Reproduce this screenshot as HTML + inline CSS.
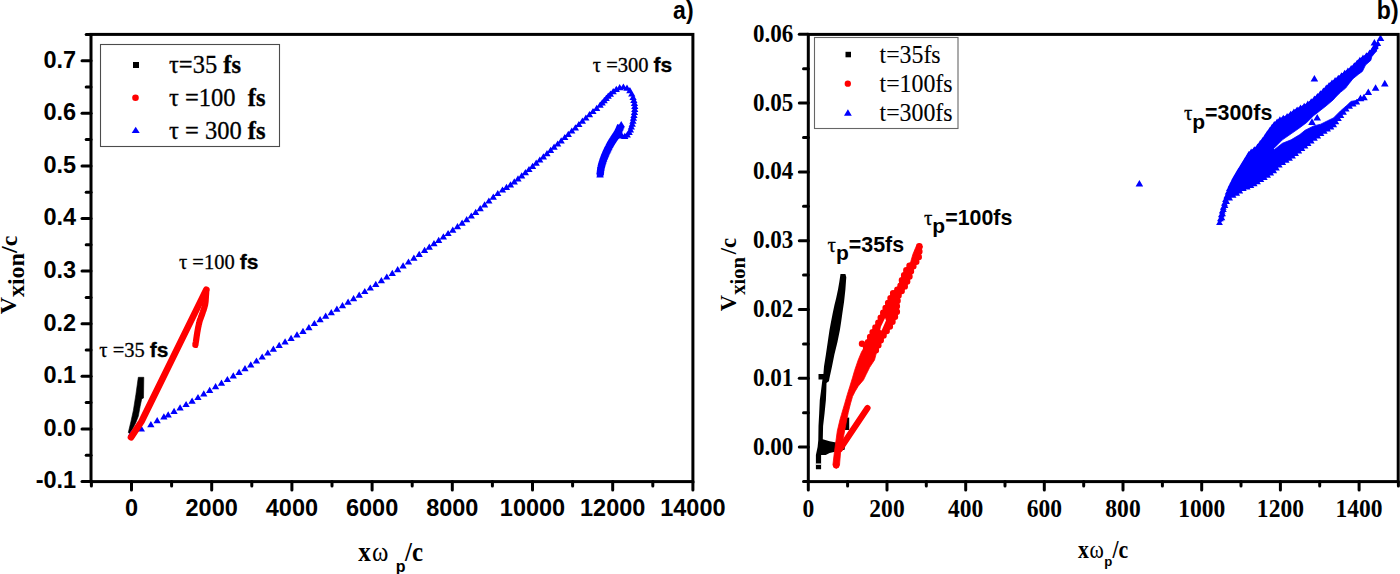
<!DOCTYPE html>
<html><head><meta charset="utf-8"><style>
html,body{margin:0;padding:0;background:#fff;}
svg{display:block;}
</style></head><body>
<svg width="1400" height="574" viewBox="0 0 1400 574">
<rect width="1400" height="574" fill="#fff"/>
<path d="M138.3,377.3 L143.8,377.3 L143.5,398.0 L141.7,398.9 L140.1,406.6 L138.3,416.3 L135.9,422.4 L132.2,429.8 L129.5,433.5 L128.3,432.5 L131.0,421.2 L133.4,410.2 L135.9,394.4 Z" fill="#000" stroke="#000" stroke-width="0.6" stroke-linejoin="round"/>
<path d="M127.8,436.2h7.3l-3.6,-6.2zM137.7,431.6h7.3l-3.6,-6.2zM147.2,427.2h7.3l-3.6,-6.2zM153.5,423.3h7.3l-3.6,-6.2zM160.2,419.5h7.3l-3.6,-6.2zM164.5,417.5h7.3l-3.6,-6.2zM170.4,414.0h7.3l-3.6,-6.2zM176.4,410.5h7.3l-3.6,-6.2zM182.4,407.1h7.3l-3.6,-6.2zM188.4,403.7h7.3l-3.6,-6.2zM194.3,400.1h7.3l-3.6,-6.2zM200.1,396.5h7.3l-3.6,-6.2zM206.0,392.9h7.3l-3.6,-6.2zM211.9,389.3h7.3l-3.6,-6.2zM217.8,385.7h7.3l-3.6,-6.2zM223.7,382.1h7.3l-3.6,-6.2zM229.6,378.5h7.3l-3.6,-6.2zM235.4,374.9h7.3l-3.6,-6.2zM241.3,371.2h7.3l-3.6,-6.2zM247.1,367.5h7.3l-3.6,-6.2zM252.8,363.6h7.3l-3.6,-6.2zM258.5,359.6h7.3l-3.6,-6.2zM264.1,355.6h7.3l-3.6,-6.2zM269.7,351.7h7.3l-3.6,-6.2zM275.5,347.9h7.3l-3.6,-6.2zM281.4,344.4h7.3l-3.6,-6.2zM287.4,340.9h7.3l-3.6,-6.2zM293.3,337.4h7.3l-3.6,-6.2zM299.3,333.9h7.3l-3.6,-6.2zM305.2,330.3h7.3l-3.6,-6.2zM310.7,326.1h7.3l-3.6,-6.2zM316.4,322.2h7.3l-3.6,-6.2zM322.0,318.7h7.3l-3.6,-6.2zM327.6,315.3h7.3l-3.6,-6.2zM333.2,311.8h7.3l-3.6,-6.2zM338.8,308.3h7.3l-3.6,-6.2zM344.4,304.8h7.3l-3.6,-6.2zM349.9,301.2h7.3l-3.6,-6.2zM355.5,297.7h7.3l-3.6,-6.2zM361.1,294.1h7.3l-3.6,-6.2zM366.6,290.6h7.3l-3.6,-6.2zM372.1,287.0h7.3l-3.6,-6.2zM377.7,283.3h7.3l-3.6,-6.2zM383.1,279.6h7.3l-3.6,-6.2zM388.6,275.9h7.3l-3.6,-6.2zM394.0,272.2h7.3l-3.6,-6.2zM399.4,268.4h7.3l-3.6,-6.2zM404.8,264.6h7.3l-3.6,-6.2zM410.2,260.7h7.3l-3.6,-6.2zM415.5,256.9h7.3l-3.6,-6.2zM420.9,253.0h7.3l-3.6,-6.2zM425.6,249.7h7.3l-3.6,-6.2zM430.3,246.3h7.3l-3.6,-6.2zM435.0,242.9h7.3l-3.6,-6.2zM439.7,239.5h7.3l-3.6,-6.2zM444.4,236.1h7.3l-3.6,-6.2zM449.1,232.7h7.3l-3.6,-6.2zM453.8,229.2h7.3l-3.6,-6.2zM458.4,225.8h7.3l-3.6,-6.2zM463.0,222.2h7.3l-3.6,-6.2zM467.6,218.6h7.3l-3.6,-6.2zM472.0,214.9h7.3l-3.6,-6.2zM476.5,211.2h7.3l-3.6,-6.2zM480.9,207.4h7.3l-3.6,-6.2zM485.2,203.6h7.3l-3.6,-6.2zM489.6,199.8h7.3l-3.6,-6.2zM494.1,196.1h7.3l-3.6,-6.2zM498.8,192.6h7.3l-3.6,-6.2zM502.8,190.0h7.3l-3.6,-6.2zM506.8,187.4h7.3l-3.6,-6.2zM510.6,184.5h7.3l-3.6,-6.2zM514.3,181.5h7.3l-3.6,-6.2zM518.0,178.4h7.3l-3.6,-6.2zM521.7,175.2h7.3l-3.6,-6.2zM525.3,172.1h7.3l-3.6,-6.2zM528.9,168.9h7.3l-3.6,-6.2zM532.5,165.8h7.3l-3.6,-6.2zM536.1,162.6h7.3l-3.6,-6.2zM539.7,159.4h7.3l-3.6,-6.2zM543.3,156.2h7.3l-3.6,-6.2zM546.9,153.0h7.3l-3.6,-6.2zM550.4,149.8h7.3l-3.6,-6.2zM554.0,146.6h7.3l-3.6,-6.2zM557.5,143.4h7.3l-3.6,-6.2zM561.1,140.1h7.3l-3.6,-6.2zM564.6,136.9h7.3l-3.6,-6.2zM568.1,133.6h7.3l-3.6,-6.2zM571.7,130.4h7.3l-3.6,-6.2zM575.2,127.1h7.3l-3.6,-6.2zM578.7,123.8h7.3l-3.6,-6.2zM582.2,120.6h7.3l-3.6,-6.2zM585.8,117.3h7.3l-3.6,-6.2zM589.3,114.1h7.3l-3.6,-6.2zM593.0,111.0h7.3l-3.6,-6.2zM596.4,107.7h7.3l-3.6,-6.2zM598.5,105.5h7.3l-3.6,-6.2zM600.5,103.2h7.3l-3.6,-6.2zM602.5,101.0h7.3l-3.6,-6.2zM604.5,98.8h7.3l-3.6,-6.2zM606.7,96.7h7.3l-3.6,-6.2zM609.5,94.2h7.3l-3.6,-6.2zM612.6,92.0h7.3l-3.6,-6.2zM616.0,90.3h7.3l-3.6,-6.2zM619.7,89.6h7.3l-3.6,-6.2zM623.3,90.8h7.3l-3.6,-6.2zM626.2,93.3h7.3l-3.6,-6.2zM628.1,96.6h7.3l-3.6,-6.2zM629.4,100.1h7.3l-3.6,-6.2zM630.2,103.0h7.3l-3.6,-6.2zM630.8,105.9h7.3l-3.6,-6.2zM631.1,108.9h7.3l-3.6,-6.2zM631.1,111.9h7.3l-3.6,-6.2zM630.8,114.9h7.3l-3.6,-6.2zM630.3,117.9h7.3l-3.6,-6.2zM629.8,120.8h7.3l-3.6,-6.2zM629.3,123.8h7.3l-3.6,-6.2zM628.6,126.7h7.3l-3.6,-6.2zM627.7,129.6h7.3l-3.6,-6.2zM626.8,132.4h7.3l-3.6,-6.2zM625.5,135.1h7.3l-3.6,-6.2zM623.6,137.5h7.3l-3.6,-6.2zM621.1,138.9h7.3l-3.6,-6.2zM618.2,138.4h7.3l-3.6,-6.2zM616.1,136.4h7.3l-3.6,-6.2zM617.5,127.2h7.5l-3.8,-6.3zM617.1,128.3h7.5l-3.8,-6.3zM616.6,129.4h7.5l-3.8,-6.3zM616.1,130.5h7.5l-3.8,-6.3zM615.7,131.6h7.5l-3.8,-6.3zM615.2,132.7h7.5l-3.8,-6.3zM614.6,133.7h7.5l-3.8,-6.3zM614.1,134.8h7.5l-3.8,-6.3zM613.5,135.9h7.5l-3.8,-6.3zM612.9,136.9h7.5l-3.8,-6.3zM612.3,137.9h7.5l-3.8,-6.3zM611.6,138.9h7.5l-3.8,-6.3zM611.0,139.9h7.5l-3.8,-6.3zM610.3,140.9h7.5l-3.8,-6.3zM609.6,141.9h7.5l-3.8,-6.3zM609.0,142.9h7.5l-3.8,-6.3zM608.3,143.9h7.5l-3.8,-6.3zM607.7,145.0h7.5l-3.8,-6.3zM607.1,146.0h7.5l-3.8,-6.3zM606.5,147.0h7.5l-3.8,-6.3zM606.0,148.1h7.5l-3.8,-6.3zM605.4,149.2h7.5l-3.8,-6.3zM604.8,150.2h7.5l-3.8,-6.3zM604.3,151.3h7.5l-3.8,-6.3zM603.8,152.4h7.5l-3.8,-6.3zM603.2,153.4h7.5l-3.8,-6.3zM602.7,154.5h7.5l-3.8,-6.3zM602.2,155.6h7.5l-3.8,-6.3zM601.8,156.7h7.5l-3.8,-6.3zM601.3,157.8h7.5l-3.8,-6.3zM600.8,159.0h7.5l-3.8,-6.3zM600.4,160.1h7.5l-3.8,-6.3zM600.0,161.2h7.5l-3.8,-6.3zM599.6,162.3h7.5l-3.8,-6.3zM599.2,163.5h7.5l-3.8,-6.3zM598.8,164.6h7.5l-3.8,-6.3zM598.4,165.7h7.5l-3.8,-6.3zM598.1,166.9h7.5l-3.8,-6.3zM597.8,168.0h7.5l-3.8,-6.3zM597.5,169.2h7.5l-3.8,-6.3zM597.3,170.4h7.5l-3.8,-6.3zM597.0,171.6h7.5l-3.8,-6.3zM596.9,172.8h7.5l-3.8,-6.3zM596.7,173.9h7.5l-3.8,-6.3zM596.6,175.1h7.5l-3.8,-6.3zM596.4,176.3h7.5l-3.8,-6.3zM596.3,177.5h7.5l-3.8,-6.3z" fill="#0000ff"/>
<path d="M620.8,125.1 L620.7,125.5 L620.5,125.9 L620.3,126.3 L620.1,126.7 L619.9,127.2 L619.7,127.6 L619.5,128.1 L619.3,128.6 L619.1,129.1 L618.9,129.6 L618.6,130.1 L618.4,130.6 L618.2,131.1 L617.9,131.5 L617.7,132.0 L617.4,132.5 L617.1,133.0 L616.9,133.4 L616.6,133.9 L616.3,134.4 L616.0,134.9 L615.6,135.4 L615.3,135.9 L615.0,136.4 L614.6,136.9 L614.3,137.4 L614.0,137.9 L613.6,138.4 L613.3,138.9 L612.9,139.5 L612.6,140.0 L612.3,140.5 L611.9,141.0 L611.6,141.5 L611.3,142.1 L611.0,142.6 L610.7,143.1 L610.4,143.7 L610.1,144.2 L609.8,144.7 L609.5,145.3 L609.2,145.8 L608.9,146.4 L608.7,146.9 L608.4,147.5 L608.1,148.0 L607.8,148.6 L607.5,149.1 L607.3,149.7 L607.0,150.2 L606.7,150.8 L606.5,151.4 L606.2,151.9 L606.0,152.5 L605.7,153.0 L605.5,153.6 L605.3,154.2 L605.0,154.7 L604.8,155.3 L604.6,155.9 L604.3,156.5 L604.1,157.1 L603.9,157.6 L603.7,158.2 L603.5,158.8 L603.2,159.4 L603.0,160.0 L602.8,160.6 L602.7,161.1 L602.5,161.7 L602.3,162.3 L602.1,162.8 L602.0,163.4 L601.8,163.9 L601.6,164.5 L601.5,165.0 L601.4,165.5 L601.2,166.1 L601.1,166.6 L601.0,167.2 L600.9,167.7 L600.8,168.3 L600.7,168.8 L600.6,169.4 L600.6,169.9 L600.5,170.5 L600.4,171.0 L600.4,171.5 L600.3,172.0 L600.3,172.4 L600.2,172.8 L600.2,173.2 L600.1,173.6 L600.1,173.9 L600.0,174.2 L600.0,174.5" stroke="#0000ff" stroke-width="7.2" fill="none"/>
<path d="M131.0,437.3 L141.5,421.5 L206.3,289.6" fill="none" stroke="#ff0000" stroke-width="6.6" stroke-linecap="round" stroke-linejoin="round"/>
<path d="M206.3,291.0 L206.2,291.8 L206.2,292.8 L206.1,294.0 L206.0,295.4 L205.9,296.9 L205.8,298.4 L205.7,299.9 L205.6,301.4 L205.4,302.8 L205.2,304.0 L205.0,305.1 L204.7,306.2 L204.4,307.3 L204.1,308.3 L203.8,309.3 L203.5,310.3 L203.1,311.2 L202.8,312.2 L202.5,313.1 L202.2,314.0 L201.9,314.9 L201.6,315.7 L201.3,316.5 L201.0,317.2 L200.8,317.9 L200.5,318.7 L200.2,319.4 L199.9,320.2 L199.7,321.1 L199.4,322.0 L199.2,323.0 L198.9,324.0 L198.7,325.0 L198.5,326.1 L198.2,327.2 L198.0,328.4 L197.8,329.5 L197.6,330.7 L197.4,331.8 L197.2,333.0 L197.0,334.2 L196.8,335.5 L196.6,336.9 L196.4,338.3 L196.2,339.7 L196.0,341.0 L195.8,342.3 L195.6,343.4 L195.5,344.3 L195.4,345.0" fill="none" stroke="#ff0000" stroke-width="6.2" stroke-linecap="round" stroke-linejoin="round"/>
<path d="M840.5,274.1 L845.4,274.1 L846.3,277.2 L846.0,280.9 L845.4,289.4 L844.1,301.6 L842.3,313.8 L841.1,322.3 L839.9,330.0 L837.4,342.2 L834.4,354.4 L832.0,366.6 L829.5,378.0 L828.9,381.2 L826.5,383.0 L826.3,391.0 L825.9,400.0 L824.6,413.1 L823.1,426.1 L822.8,439.2 L829.6,441.2 L836.1,442.5 L842.0,443.5 L845.0,446.5 L844.6,449.7 L836.1,451.6 L829.6,452.9 L825.7,454.9 L821.1,454.9 L821.1,469.3 L815.9,469.3 L815.9,455.0 L817.6,447.0 L818.3,440.0 L818.5,426.1 L819.2,413.1 L819.8,400.0 L821.0,391.0 L822.2,381.2 L822.5,379.4 L818.5,379.4 L818.5,373.9 L823.4,373.9 L824.0,366.6 L825.9,354.4 L827.7,342.2 L829.5,330.0 L830.7,323.5 L832.6,313.8 L834.4,305.2 L836.2,297.9 L838.0,289.4 L839.3,282.0 Z" fill="#000"/>
<rect x="816" y="463.5" width="5" height="1.3" fill="#fff"/>
<path d="M844.6,417.6 L849.2,417.6 L849.2,430 L844.6,430 Z" fill="#000"/>
<path d="M919.3,243.2 L922.4,246.4 L921.0,251.4 L920.3,257.9 L913.2,269.1 L910.7,277.7 L905.9,287.4 L899.8,296.0 L898.5,305.7 L898.5,313.0 L892.4,325.2 L883.9,337.4 L876.6,352.1 L874.5,360.0 L869.7,367.3 L866.1,374.6 L863.5,379.9 L858.2,386.2 L855.1,391.4 L852.5,396.6 L850.4,403.9 L848.3,412.3 L846.7,420.0 L844.6,431.0 L840.5,453.0 L839.5,465.0 L836.2,468.5 L832.9,465.0 L834.3,453.0 L837.3,431.0 L839.9,420.0 L841.5,414.4 L844.6,403.9 L847.3,394.5 L849.9,386.2 L852.5,377.8 L854.6,370.5 L858.2,360.0 L861.5,352.0 L864.4,347.2 L869.3,335.0 L876.6,322.8 L882.7,310.6 L886.3,303.3 L891.2,293.5 L898.5,287.4 L899.8,281.3 L904.6,270.4 L910.7,261.8 L912.9,254.3 L916.2,246.4 Z" fill="#ff0000" stroke="#ff0000" stroke-width="0.8" stroke-linejoin="round"/>
<path d="M885.1,317.9 L886,320.5 L881.6,330.4 L880.2,330.1 L881,326.5 Z" fill="#fff"/>
<path d="M922.6,251.4a3.2,3.2 0 1,0 -6.4,0a3.2,3.2 0 1,0 6.4,0zM922.0,256.9a3.2,3.2 0 1,0 -6.4,0a3.2,3.2 0 1,0 6.4,0zM919.5,261.7a3.2,3.2 0 1,0 -6.4,0a3.2,3.2 0 1,0 6.4,0zM916.6,266.3a3.2,3.2 0 1,0 -6.4,0a3.2,3.2 0 1,0 6.4,0zM914.2,271.2a3.2,3.2 0 1,0 -6.4,0a3.2,3.2 0 1,0 6.4,0zM912.7,276.5a3.2,3.2 0 1,0 -6.4,0a3.2,3.2 0 1,0 6.4,0zM910.4,281.5a3.2,3.2 0 1,0 -6.4,0a3.2,3.2 0 1,0 6.4,0zM908.0,286.4a3.2,3.2 0 1,0 -6.4,0a3.2,3.2 0 1,0 6.4,0zM904.9,291.0a3.2,3.2 0 1,0 -6.4,0a3.2,3.2 0 1,0 6.4,0zM901.8,295.5a3.2,3.2 0 1,0 -6.4,0a3.2,3.2 0 1,0 6.4,0zM900.8,300.8a3.2,3.2 0 1,0 -6.4,0a3.2,3.2 0 1,0 6.4,0zM900.1,306.3a3.2,3.2 0 1,0 -6.4,0a3.2,3.2 0 1,0 6.4,0zM900.1,311.8a3.2,3.2 0 1,0 -6.4,0a3.2,3.2 0 1,0 6.4,0zM898.2,316.8a3.2,3.2 0 1,0 -6.4,0a3.2,3.2 0 1,0 6.4,0zM895.7,321.8a3.2,3.2 0 1,0 -6.4,0a3.2,3.2 0 1,0 6.4,0zM893.1,326.6a3.2,3.2 0 1,0 -6.4,0a3.2,3.2 0 1,0 6.4,0zM889.9,331.1a3.2,3.2 0 1,0 -6.4,0a3.2,3.2 0 1,0 6.4,0zM886.8,335.6a3.2,3.2 0 1,0 -6.4,0a3.2,3.2 0 1,0 6.4,0zM884.0,340.3a3.2,3.2 0 1,0 -6.4,0a3.2,3.2 0 1,0 6.4,0zM881.6,345.3a3.2,3.2 0 1,0 -6.4,0a3.2,3.2 0 1,0 6.4,0zM879.1,350.2a3.2,3.2 0 1,0 -6.4,0a3.2,3.2 0 1,0 6.4,0zM869.2,347.2a3.2,3.2 0 1,0 -6.4,0a3.2,3.2 0 1,0 6.4,0zM871.2,342.1a3.2,3.2 0 1,0 -6.4,0a3.2,3.2 0 1,0 6.4,0zM873.3,337.0a3.2,3.2 0 1,0 -6.4,0a3.2,3.2 0 1,0 6.4,0zM875.8,332.1a3.2,3.2 0 1,0 -6.4,0a3.2,3.2 0 1,0 6.4,0zM878.6,327.4a3.2,3.2 0 1,0 -6.4,0a3.2,3.2 0 1,0 6.4,0zM881.5,322.7a3.2,3.2 0 1,0 -6.4,0a3.2,3.2 0 1,0 6.4,0zM883.9,317.8a3.2,3.2 0 1,0 -6.4,0a3.2,3.2 0 1,0 6.4,0zM886.4,312.8a3.2,3.2 0 1,0 -6.4,0a3.2,3.2 0 1,0 6.4,0zM888.8,307.9a3.2,3.2 0 1,0 -6.4,0a3.2,3.2 0 1,0 6.4,0zM891.3,303.0a3.2,3.2 0 1,0 -6.4,0a3.2,3.2 0 1,0 6.4,0zM893.7,298.1a3.2,3.2 0 1,0 -6.4,0a3.2,3.2 0 1,0 6.4,0zM896.3,293.2a3.2,3.2 0 1,0 -6.4,0a3.2,3.2 0 1,0 6.4,0zM900.5,289.7a3.2,3.2 0 1,0 -6.4,0a3.2,3.2 0 1,0 6.4,0zM903.7,285.6a3.2,3.2 0 1,0 -6.4,0a3.2,3.2 0 1,0 6.4,0zM905.1,280.2a3.2,3.2 0 1,0 -6.4,0a3.2,3.2 0 1,0 6.4,0zM907.3,275.2a3.2,3.2 0 1,0 -6.4,0a3.2,3.2 0 1,0 6.4,0zM909.5,270.2a3.2,3.2 0 1,0 -6.4,0a3.2,3.2 0 1,0 6.4,0zM912.7,265.7a3.2,3.2 0 1,0 -6.4,0a3.2,3.2 0 1,0 6.4,0z" fill="#ff0000"/>
<circle cx="919.3" cy="246.4" r="3.3" fill="#ff0000"/><circle cx="917.9" cy="251.4" r="3.3" fill="#ff0000"/>
<circle cx="862" cy="343.8" r="3.2" fill="#ff0000"/>
<circle cx="836.2" cy="465.2" r="3.3" fill="#ff0000"/>
<path d="M840,449 L867.5,408" stroke="#ff0000" stroke-width="6.2" stroke-linecap="round" fill="none"/>
<path d="M1218.9,222.0 L1221.5,210.8 L1225.0,198.7 L1229.2,186.8 L1234.4,176.5 L1239.6,167.8 L1246.5,156.5 L1248.8,152.5 L1256.7,146.4 L1263.8,137.5 L1266.6,133.2 L1273.5,123.7 L1279.2,118.9 L1286.9,115.4 L1295.6,109.3 L1306.0,104.1 L1313.3,98.7 L1322.1,90.9 L1326.5,86.4 L1331.3,82.1 L1338.2,76.9 L1345.1,71.6 L1352.2,66.3 L1359.2,59.4 L1367.9,53.3 L1373.3,47.8 L1377.6,42.2 L1378.0,47.0 L1376.0,51.5 L1371.8,56.7 L1370.8,60.4 L1365.5,65.1 L1362.4,71.4 L1358.2,74.5 L1353.0,78.7 L1348.8,83.9 L1345.7,88.1 L1340.5,92.3 L1336.3,96.4 L1333.1,100.0 L1326.0,106.0 L1317.2,112.9 L1313.8,115.5 L1306.8,122.4 L1299.8,127.7 L1291.1,133.8 L1282.4,139.8 L1277.2,145.1 L1273.7,148.6 L1274.6,149.4 L1282.4,143.3 L1291.1,139.8 L1299.8,134.6 L1305.0,130.3 L1313.8,125.9 L1320.7,124.2 L1327.7,120.7 L1333.5,117.9 L1340.4,111.0 L1347.4,104.9 L1350.9,101.4 L1356.1,100.5 L1360.0,98.0 L1357.1,102.2 L1355.1,103.2 L1347.9,107.7 L1342.3,114.1 L1336.2,122.0 L1333.7,125.3 L1324.9,131.3 L1316.0,137.4 L1307.2,144.4 L1298.6,151.4 L1290.0,158.3 L1281.1,163.6 L1273.1,171.8 L1266.4,176.4 L1259.4,180.8 L1252.6,185.0 L1243.9,188.5 L1237.6,193.0 L1231.4,196.5 L1227.5,200.6 L1223.8,209.8 L1221.9,221.3 Z" fill="#0000ff" stroke="#0000ff" stroke-width="0.8" stroke-linejoin="round"/>
<path d="M1216.1,225.1h6.8l-3.4,-5.8zM1217.0,221.2h6.8l-3.4,-5.8zM1217.9,217.3h6.8l-3.4,-5.8zM1218.8,213.5h6.8l-3.4,-5.8zM1219.9,209.7h6.8l-3.4,-5.8zM1221.0,205.8h6.8l-3.4,-5.8zM1222.1,202.1h6.8l-3.4,-5.8zM1223.4,198.4h6.8l-3.4,-5.8zM1224.7,194.6h6.8l-3.4,-5.8zM1226.0,190.9h6.8l-3.4,-5.8zM1227.6,187.4h6.8l-3.4,-5.8zM1229.4,183.9h6.8l-3.4,-5.8zM1231.1,180.4h6.8l-3.4,-5.8zM1233.1,177.0h6.8l-3.4,-5.8zM1235.1,173.6h6.8l-3.4,-5.8zM1237.2,170.2h6.8l-3.4,-5.8zM1239.3,166.8h6.8l-3.4,-5.8zM1241.4,163.4h6.8l-3.4,-5.8zM1243.5,160.0h6.8l-3.4,-5.8zM1245.4,156.8h6.8l-3.4,-5.8zM1247.8,154.4h6.8l-3.4,-5.8zM1250.9,152.0h6.8l-3.4,-5.8zM1254.2,149.2h6.8l-3.4,-5.8zM1256.8,145.9h6.8l-3.4,-5.8zM1259.3,142.7h6.8l-3.4,-5.8zM1261.8,139.4h6.8l-3.4,-5.8zM1264.0,136.1h6.8l-3.4,-5.8zM1266.3,132.9h6.8l-3.4,-5.8zM1268.6,129.7h6.8l-3.4,-5.8zM1270.9,126.8h6.8l-3.4,-5.8zM1273.7,124.4h6.8l-3.4,-5.8zM1276.5,122.1h6.8l-3.4,-5.8zM1279.9,120.6h6.8l-3.4,-5.8zM1283.7,118.9h6.8l-3.4,-5.8zM1287.2,116.5h6.8l-3.4,-5.8zM1290.5,114.2h6.8l-3.4,-5.8zM1293.7,112.2h6.8l-3.4,-5.8zM1297.1,110.4h6.8l-3.4,-5.8zM1300.8,108.6h6.8l-3.4,-5.8zM1304.4,106.4h6.8l-3.4,-5.8zM1307.8,104.0h6.8l-3.4,-5.8zM1311.0,101.4h6.8l-3.4,-5.8zM1314.0,98.7h6.8l-3.4,-5.8zM1317.0,96.0h6.8l-3.4,-5.8zM1320.0,93.3h6.8l-3.4,-5.8zM1322.9,90.4h6.8l-3.4,-5.8zM1325.7,87.7h6.8l-3.4,-5.8zM1328.6,85.2h6.8l-3.4,-5.8zM1331.7,82.9h6.8l-3.4,-5.8zM1334.9,80.5h6.8l-3.4,-5.8zM1338.1,78.0h6.8l-3.4,-5.8zM1341.3,75.6h6.8l-3.4,-5.8zM1344.5,73.2h6.8l-3.4,-5.8zM1347.8,70.7h6.8l-3.4,-5.8zM1350.9,68.0h6.8l-3.4,-5.8zM1353.8,65.2h6.8l-3.4,-5.8zM1356.5,62.6h6.8l-3.4,-5.8zM1359.6,60.4h6.8l-3.4,-5.8zM1363.0,58.0h6.8l-3.4,-5.8zM1366.2,55.3h6.8l-3.4,-5.8zM1369.2,52.3h6.8l-3.4,-5.8zM1371.9,49.1h6.8l-3.4,-5.8zM1374.4,45.9h6.8l-3.4,-5.8zM1353.4,104.6h6.8l-3.4,-5.8zM1349.8,106.6h6.8l-3.4,-5.8zM1346.2,108.8h6.8l-3.4,-5.8zM1342.8,111.6h6.8l-3.4,-5.8zM1340.1,114.8h6.8l-3.4,-5.8zM1337.5,117.9h6.8l-3.4,-5.8zM1335.0,121.1h6.8l-3.4,-5.8zM1332.5,124.3h6.8l-3.4,-5.8zM1330.3,127.2h6.8l-3.4,-5.8zM1327.5,129.4h6.8l-3.4,-5.8zM1324.2,131.6h6.8l-3.4,-5.8zM1320.9,133.8h6.8l-3.4,-5.8zM1317.6,136.1h6.8l-3.4,-5.8zM1314.3,138.4h6.8l-3.4,-5.8zM1311.0,140.8h6.8l-3.4,-5.8zM1307.8,143.4h6.8l-3.4,-5.8zM1304.7,145.9h6.8l-3.4,-5.8zM1301.6,148.4h6.8l-3.4,-5.8zM1298.5,150.9h6.8l-3.4,-5.8zM1295.4,153.4h6.8l-3.4,-5.8zM1292.2,155.9h6.8l-3.4,-5.8zM1289.1,158.4h6.8l-3.4,-5.8zM1286.1,160.7h6.8l-3.4,-5.8zM1282.8,162.7h6.8l-3.4,-5.8zM1279.3,164.9h6.8l-3.4,-5.8zM1275.9,167.5h6.8l-3.4,-5.8zM1273.0,170.5h6.8l-3.4,-5.8zM1270.3,173.2h6.8l-3.4,-5.8zM1267.3,175.6h6.8l-3.4,-5.8zM1264.2,177.8h6.8l-3.4,-5.8zM1260.9,180.0h6.8l-3.4,-5.8zM1257.5,182.1h6.8l-3.4,-5.8zM1254.1,184.2h6.8l-3.4,-5.8zM1250.8,186.2h6.8l-3.4,-5.8zM1247.5,188.0h6.8l-3.4,-5.8zM1243.8,189.4h6.8l-3.4,-5.8zM1239.9,191.1h6.8l-3.4,-5.8zM1236.4,193.6h6.8l-3.4,-5.8zM1233.3,195.8h6.8l-3.4,-5.8zM1229.7,197.7h6.8l-3.4,-5.8zM1226.2,200.4h6.8l-3.4,-5.8zM1223.2,204.0h6.8l-3.4,-5.8zM1221.6,208.1h6.8l-3.4,-5.8zM1220.0,212.0h6.8l-3.4,-5.8zM1219.2,216.2h6.8l-3.4,-5.8zM1218.5,220.2h6.8l-3.4,-5.8z" fill="#0000ff"/>
<path d="M1310.6,81.6h7.6l-3.8,-6.6zM1135.6,186.6h7.6l-3.8,-6.6zM1313.4,120.5h7.6l-3.8,-6.6zM1308.2,124.9h7.6l-3.8,-6.6zM1376.7,41.1h7.6l-3.8,-6.6zM1370.6,45.5h7.6l-3.8,-6.6zM1369.7,51.6h7.6l-3.8,-6.6zM1381.0,86.4h7.6l-3.8,-6.6zM1371.8,90.8h7.6l-3.8,-6.6zM1364.5,95.1h7.6l-3.8,-6.6zM1360.2,100.3h7.6l-3.8,-6.6zM1356.7,101.2h7.6l-3.8,-6.6z" fill="#0000ff"/>
<rect x="91.0" y="34.4" width="601.9" height="447.2" fill="none" stroke="#000" stroke-width="3"/>
<rect x="808.3" y="34.4" width="589.9" height="447.2" fill="none" stroke="#000" stroke-width="3"/>
<line x1="82.0" y1="481.5" x2="91.0" y2="481.5" stroke="#000" stroke-width="3" stroke-linecap="round"/>
<text x="76.2" y="488.3" font-family='"Liberation Sans", sans-serif' font-size="23.5" font-weight="bold" text-anchor="end" fill="#000" >-0.1</text>
<line x1="86.2" y1="455.2" x2="91.0" y2="455.2" stroke="#000" stroke-width="3" stroke-linecap="round"/>
<line x1="82.0" y1="428.9" x2="91.0" y2="428.9" stroke="#000" stroke-width="3" stroke-linecap="round"/>
<text x="76.2" y="435.7" font-family='"Liberation Sans", sans-serif' font-size="23.5" font-weight="bold" text-anchor="end" fill="#000" >0.0</text>
<line x1="86.2" y1="402.6" x2="91.0" y2="402.6" stroke="#000" stroke-width="3" stroke-linecap="round"/>
<line x1="82.0" y1="376.3" x2="91.0" y2="376.3" stroke="#000" stroke-width="3" stroke-linecap="round"/>
<text x="76.2" y="383.1" font-family='"Liberation Sans", sans-serif' font-size="23.5" font-weight="bold" text-anchor="end" fill="#000" >0.1</text>
<line x1="86.2" y1="350.0" x2="91.0" y2="350.0" stroke="#000" stroke-width="3" stroke-linecap="round"/>
<line x1="82.0" y1="323.7" x2="91.0" y2="323.7" stroke="#000" stroke-width="3" stroke-linecap="round"/>
<text x="76.2" y="330.5" font-family='"Liberation Sans", sans-serif' font-size="23.5" font-weight="bold" text-anchor="end" fill="#000" >0.2</text>
<line x1="86.2" y1="297.4" x2="91.0" y2="297.4" stroke="#000" stroke-width="3" stroke-linecap="round"/>
<line x1="82.0" y1="271.1" x2="91.0" y2="271.1" stroke="#000" stroke-width="3" stroke-linecap="round"/>
<text x="76.2" y="277.9" font-family='"Liberation Sans", sans-serif' font-size="23.5" font-weight="bold" text-anchor="end" fill="#000" >0.3</text>
<line x1="86.2" y1="244.8" x2="91.0" y2="244.8" stroke="#000" stroke-width="3" stroke-linecap="round"/>
<line x1="82.0" y1="218.5" x2="91.0" y2="218.5" stroke="#000" stroke-width="3" stroke-linecap="round"/>
<text x="76.2" y="225.3" font-family='"Liberation Sans", sans-serif' font-size="23.5" font-weight="bold" text-anchor="end" fill="#000" >0.4</text>
<line x1="86.2" y1="192.2" x2="91.0" y2="192.2" stroke="#000" stroke-width="3" stroke-linecap="round"/>
<line x1="82.0" y1="165.9" x2="91.0" y2="165.9" stroke="#000" stroke-width="3" stroke-linecap="round"/>
<text x="76.2" y="172.7" font-family='"Liberation Sans", sans-serif' font-size="23.5" font-weight="bold" text-anchor="end" fill="#000" >0.5</text>
<line x1="86.2" y1="139.6" x2="91.0" y2="139.6" stroke="#000" stroke-width="3" stroke-linecap="round"/>
<line x1="82.0" y1="113.3" x2="91.0" y2="113.3" stroke="#000" stroke-width="3" stroke-linecap="round"/>
<text x="76.2" y="120.1" font-family='"Liberation Sans", sans-serif' font-size="23.5" font-weight="bold" text-anchor="end" fill="#000" >0.6</text>
<line x1="86.2" y1="87.0" x2="91.0" y2="87.0" stroke="#000" stroke-width="3" stroke-linecap="round"/>
<line x1="82.0" y1="60.7" x2="91.0" y2="60.7" stroke="#000" stroke-width="3" stroke-linecap="round"/>
<text x="76.2" y="67.5" font-family='"Liberation Sans", sans-serif' font-size="23.5" font-weight="bold" text-anchor="end" fill="#000" >0.7</text>
<line x1="86.2" y1="34.4" x2="91.0" y2="34.4" stroke="#000" stroke-width="3" stroke-linecap="round"/>
<line x1="91.4" y1="481.6" x2="91.4" y2="486.1" stroke="#000" stroke-width="3" stroke-linecap="round"/>
<line x1="131.5" y1="481.6" x2="131.5" y2="490.1" stroke="#000" stroke-width="3" stroke-linecap="round"/>
<text x="131.5" y="515.6" font-family='"Liberation Sans", sans-serif' font-size="23.5" font-weight="bold" text-anchor="middle" fill="#000" >0</text>
<line x1="171.6" y1="481.6" x2="171.6" y2="486.1" stroke="#000" stroke-width="3" stroke-linecap="round"/>
<line x1="211.7" y1="481.6" x2="211.7" y2="490.1" stroke="#000" stroke-width="3" stroke-linecap="round"/>
<text x="211.7" y="515.6" font-family='"Liberation Sans", sans-serif' font-size="23.5" font-weight="bold" text-anchor="middle" fill="#000" >2000</text>
<line x1="251.8" y1="481.6" x2="251.8" y2="486.1" stroke="#000" stroke-width="3" stroke-linecap="round"/>
<line x1="291.9" y1="481.6" x2="291.9" y2="490.1" stroke="#000" stroke-width="3" stroke-linecap="round"/>
<text x="291.9" y="515.6" font-family='"Liberation Sans", sans-serif' font-size="23.5" font-weight="bold" text-anchor="middle" fill="#000" >4000</text>
<line x1="332.0" y1="481.6" x2="332.0" y2="486.1" stroke="#000" stroke-width="3" stroke-linecap="round"/>
<line x1="372.1" y1="481.6" x2="372.1" y2="490.1" stroke="#000" stroke-width="3" stroke-linecap="round"/>
<text x="372.1" y="515.6" font-family='"Liberation Sans", sans-serif' font-size="23.5" font-weight="bold" text-anchor="middle" fill="#000" >6000</text>
<line x1="412.2" y1="481.6" x2="412.2" y2="486.1" stroke="#000" stroke-width="3" stroke-linecap="round"/>
<line x1="452.3" y1="481.6" x2="452.3" y2="490.1" stroke="#000" stroke-width="3" stroke-linecap="round"/>
<text x="452.3" y="515.6" font-family='"Liberation Sans", sans-serif' font-size="23.5" font-weight="bold" text-anchor="middle" fill="#000" >8000</text>
<line x1="492.4" y1="481.6" x2="492.4" y2="486.1" stroke="#000" stroke-width="3" stroke-linecap="round"/>
<line x1="532.5" y1="481.6" x2="532.5" y2="490.1" stroke="#000" stroke-width="3" stroke-linecap="round"/>
<text x="532.5" y="515.6" font-family='"Liberation Sans", sans-serif' font-size="23.5" font-weight="bold" text-anchor="middle" fill="#000" >10000</text>
<line x1="572.6" y1="481.6" x2="572.6" y2="486.1" stroke="#000" stroke-width="3" stroke-linecap="round"/>
<line x1="612.7" y1="481.6" x2="612.7" y2="490.1" stroke="#000" stroke-width="3" stroke-linecap="round"/>
<text x="612.7" y="515.6" font-family='"Liberation Sans", sans-serif' font-size="23.5" font-weight="bold" text-anchor="middle" fill="#000" >12000</text>
<line x1="652.8" y1="481.6" x2="652.8" y2="486.1" stroke="#000" stroke-width="3" stroke-linecap="round"/>
<line x1="692.9" y1="481.6" x2="692.9" y2="490.1" stroke="#000" stroke-width="3" stroke-linecap="round"/>
<text x="692.9" y="515.6" font-family='"Liberation Sans", sans-serif' font-size="23.5" font-weight="bold" text-anchor="middle" fill="#000" >14000</text>
<line x1="803.5" y1="481.5" x2="808.3" y2="481.5" stroke="#000" stroke-width="3" stroke-linecap="round"/>
<line x1="799.3" y1="447.1" x2="808.3" y2="447.1" stroke="#000" stroke-width="3" stroke-linecap="round"/>
<g transform="translate(793.3,454.5) scale(0.93,1)"><text x="0" y="0" font-family='"Liberation Serif", serif' font-size="24.8" font-weight="bold" text-anchor="end">0.00</text></g>
<line x1="803.5" y1="412.7" x2="808.3" y2="412.7" stroke="#000" stroke-width="3" stroke-linecap="round"/>
<line x1="799.3" y1="378.3" x2="808.3" y2="378.3" stroke="#000" stroke-width="3" stroke-linecap="round"/>
<g transform="translate(793.3,385.7) scale(0.93,1)"><text x="0" y="0" font-family='"Liberation Serif", serif' font-size="24.8" font-weight="bold" text-anchor="end">0.01</text></g>
<line x1="803.5" y1="343.9" x2="808.3" y2="343.9" stroke="#000" stroke-width="3" stroke-linecap="round"/>
<line x1="799.3" y1="309.5" x2="808.3" y2="309.5" stroke="#000" stroke-width="3" stroke-linecap="round"/>
<g transform="translate(793.3,316.9) scale(0.93,1)"><text x="0" y="0" font-family='"Liberation Serif", serif' font-size="24.8" font-weight="bold" text-anchor="end">0.02</text></g>
<line x1="803.5" y1="275.1" x2="808.3" y2="275.1" stroke="#000" stroke-width="3" stroke-linecap="round"/>
<line x1="799.3" y1="240.7" x2="808.3" y2="240.7" stroke="#000" stroke-width="3" stroke-linecap="round"/>
<g transform="translate(793.3,248.1) scale(0.93,1)"><text x="0" y="0" font-family='"Liberation Serif", serif' font-size="24.8" font-weight="bold" text-anchor="end">0.03</text></g>
<line x1="803.5" y1="206.3" x2="808.3" y2="206.3" stroke="#000" stroke-width="3" stroke-linecap="round"/>
<line x1="799.3" y1="171.9" x2="808.3" y2="171.9" stroke="#000" stroke-width="3" stroke-linecap="round"/>
<g transform="translate(793.3,179.3) scale(0.93,1)"><text x="0" y="0" font-family='"Liberation Serif", serif' font-size="24.8" font-weight="bold" text-anchor="end">0.04</text></g>
<line x1="803.5" y1="137.5" x2="808.3" y2="137.5" stroke="#000" stroke-width="3" stroke-linecap="round"/>
<line x1="799.3" y1="103.1" x2="808.3" y2="103.1" stroke="#000" stroke-width="3" stroke-linecap="round"/>
<g transform="translate(793.3,110.5) scale(0.93,1)"><text x="0" y="0" font-family='"Liberation Serif", serif' font-size="24.8" font-weight="bold" text-anchor="end">0.05</text></g>
<line x1="803.5" y1="68.7" x2="808.3" y2="68.7" stroke="#000" stroke-width="3" stroke-linecap="round"/>
<line x1="799.3" y1="34.3" x2="808.3" y2="34.3" stroke="#000" stroke-width="3" stroke-linecap="round"/>
<g transform="translate(793.3,41.7) scale(0.93,1)"><text x="0" y="0" font-family='"Liberation Serif", serif' font-size="24.8" font-weight="bold" text-anchor="end">0.06</text></g>
<line x1="808.3" y1="481.6" x2="808.3" y2="490.1" stroke="#000" stroke-width="3" stroke-linecap="round"/>
<g transform="translate(808.3,516.6) scale(0.95,1)"><text x="0" y="0" font-family='"Liberation Serif", serif' font-size="24.8" font-weight="bold" text-anchor="middle">0</text></g>
<line x1="847.6" y1="481.6" x2="847.6" y2="486.1" stroke="#000" stroke-width="3" stroke-linecap="round"/>
<line x1="887.0" y1="481.6" x2="887.0" y2="490.1" stroke="#000" stroke-width="3" stroke-linecap="round"/>
<g transform="translate(887.0,516.6) scale(0.95,1)"><text x="0" y="0" font-family='"Liberation Serif", serif' font-size="24.8" font-weight="bold" text-anchor="middle">200</text></g>
<line x1="926.3" y1="481.6" x2="926.3" y2="486.1" stroke="#000" stroke-width="3" stroke-linecap="round"/>
<line x1="965.7" y1="481.6" x2="965.7" y2="490.1" stroke="#000" stroke-width="3" stroke-linecap="round"/>
<g transform="translate(965.7,516.6) scale(0.95,1)"><text x="0" y="0" font-family='"Liberation Serif", serif' font-size="24.8" font-weight="bold" text-anchor="middle">400</text></g>
<line x1="1005.0" y1="481.6" x2="1005.0" y2="486.1" stroke="#000" stroke-width="3" stroke-linecap="round"/>
<line x1="1044.3" y1="481.6" x2="1044.3" y2="490.1" stroke="#000" stroke-width="3" stroke-linecap="round"/>
<g transform="translate(1044.3,516.6) scale(0.95,1)"><text x="0" y="0" font-family='"Liberation Serif", serif' font-size="24.8" font-weight="bold" text-anchor="middle">600</text></g>
<line x1="1083.7" y1="481.6" x2="1083.7" y2="486.1" stroke="#000" stroke-width="3" stroke-linecap="round"/>
<line x1="1123.0" y1="481.6" x2="1123.0" y2="490.1" stroke="#000" stroke-width="3" stroke-linecap="round"/>
<g transform="translate(1123.0,516.6) scale(0.95,1)"><text x="0" y="0" font-family='"Liberation Serif", serif' font-size="24.8" font-weight="bold" text-anchor="middle">800</text></g>
<line x1="1162.4" y1="481.6" x2="1162.4" y2="486.1" stroke="#000" stroke-width="3" stroke-linecap="round"/>
<line x1="1201.7" y1="481.6" x2="1201.7" y2="490.1" stroke="#000" stroke-width="3" stroke-linecap="round"/>
<g transform="translate(1201.7,516.6) scale(0.95,1)"><text x="0" y="0" font-family='"Liberation Serif", serif' font-size="24.8" font-weight="bold" text-anchor="middle">1000</text></g>
<line x1="1241.0" y1="481.6" x2="1241.0" y2="486.1" stroke="#000" stroke-width="3" stroke-linecap="round"/>
<line x1="1280.4" y1="481.6" x2="1280.4" y2="490.1" stroke="#000" stroke-width="3" stroke-linecap="round"/>
<g transform="translate(1280.4,516.6) scale(0.95,1)"><text x="0" y="0" font-family='"Liberation Serif", serif' font-size="24.8" font-weight="bold" text-anchor="middle">1200</text></g>
<line x1="1319.7" y1="481.6" x2="1319.7" y2="486.1" stroke="#000" stroke-width="3" stroke-linecap="round"/>
<line x1="1359.1" y1="481.6" x2="1359.1" y2="490.1" stroke="#000" stroke-width="3" stroke-linecap="round"/>
<g transform="translate(1359.1,516.6) scale(0.95,1)"><text x="0" y="0" font-family='"Liberation Serif", serif' font-size="24.8" font-weight="bold" text-anchor="middle">1400</text></g>
<line x1="1398.4" y1="481.6" x2="1398.4" y2="486.1" stroke="#000" stroke-width="3" stroke-linecap="round"/>
<g transform="translate(693.6,18.6) scale(0.87,1)"><text x="0" y="0" font-family='"Liberation Sans", sans-serif' font-size="26.5" font-weight="bold" text-anchor="end">a)</text></g>
<g transform="translate(1398.6,18.6) scale(0.87,1)"><text x="0" y="0" font-family='"Liberation Sans", sans-serif' font-size="26.5" font-weight="bold" text-anchor="end">b)</text></g>
<g transform="translate(358.3,560.9) scale(0.89,1)"><text x="0" y="0" font-family='"Liberation Serif", serif' font-size="28" font-weight="bold">x<tspan x="15.3" font-weight="normal">ω</tspan><tspan x="52.6">/c</tspan></text></g>
<text x="395.8" y="571.8" font-family='"Liberation Sans", sans-serif' font-size="16" font-weight="bold">p</text>
<g transform="translate(1078,557.6) scale(0.87,1)"><text x="0" y="0" font-family='"Liberation Serif", serif' font-size="25" font-weight="bold">x<tspan x="13.3" font-weight="normal">ω</tspan><tspan x="39.6">/c</tspan></text></g>
<text x="1104.3" y="566.3" font-family='"Liberation Sans", sans-serif' font-size="13.2" font-weight="bold">p</text>
<g transform="translate(16.4,314.3) rotate(-90)"><text x="0" y="0" font-family='"Liberation Serif", serif' font-size="24" font-weight="bold">V<tspan x="17.2" y="7.9">xion</tspan><tspan x="61.3" y="0.6">/c</tspan></text></g>
<g transform="translate(736.4,311.3) rotate(-90)"><text x="0" y="0" font-family='"Liberation Serif", serif' font-size="22.5" font-weight="bold">V<tspan x="16.6" y="8.9" font-size="20.5">xion</tspan><tspan x="57" y="0">/c</tspan></text></g>
<rect x="100.5" y="44.5" width="179" height="102" fill="none" stroke="#4c4c4c" stroke-width="1.1"/>
<rect x="814.5" y="37.5" width="143.5" height="91" fill="none" stroke="#666" stroke-width="1.1"/>
<rect x="133" y="62" width="6" height="6" fill="#000"/>
<circle cx="135.5" cy="97.7" r="3.3" fill="#ff0000"/>
<path d="M131.7,133.0L139.7,133.0L135.7,126.7Z" fill="#0000ff"/>
<text x="169" y="72.7" font-family='"Liberation Serif", serif' font-size="24.5" stroke="#000" stroke-width="0.3" xml:space="preserve">τ=35 <tspan font-weight="bold">fs</tspan></text>
<text x="169" y="105.6" font-family='"Liberation Serif", serif' font-size="24.5" stroke="#000" stroke-width="0.3" xml:space="preserve">τ =100  <tspan font-weight="bold">fs</tspan></text>
<text x="169" y="138.6" font-family='"Liberation Serif", serif' font-size="24.5" stroke="#000" stroke-width="0.3" xml:space="preserve">τ = 300 <tspan font-weight="bold">fs</tspan></text>
<rect x="845.5" y="51.8" width="5.5" height="5.5" fill="#000"/>
<circle cx="847.8" cy="83.7" r="3.15" fill="#ff0000"/>
<path d="M844.0,115.7L851.8,115.7L847.9,109.3Z" fill="#0000ff"/>
<g transform="translate(879.5,63.1) scale(0.97,1)"><text x="0" y="0" font-family='"Liberation Serif", serif' font-size="24.6" stroke="#000" stroke-width="0.12">t=35fs</text></g>
<g transform="translate(879.5,92.2) scale(0.97,1)"><text x="0" y="0" font-family='"Liberation Serif", serif' font-size="24.6" stroke="#000" stroke-width="0.12">t=100fs</text></g>
<g transform="translate(879.5,121.3) scale(0.97,1)"><text x="0" y="0" font-family='"Liberation Serif", serif' font-size="24.6" stroke="#000" stroke-width="0.12">t=300fs</text></g>
<text x="592.8" y="71.5" font-family='"Liberation Serif", serif' font-size="20.5" stroke="#000" stroke-width="0.3" xml:space="preserve">τ =300 <tspan font-family='"Liberation Sans", sans-serif' font-weight="bold" font-size="21">fs</tspan></text>
<text x="179.0" y="268.9" font-family='"Liberation Serif", serif' font-size="20.5" stroke="#000" stroke-width="0.3" xml:space="preserve">τ =100 <tspan font-family='"Liberation Sans", sans-serif' font-weight="bold" font-size="21">fs</tspan></text>
<text x="99.3" y="356.8" font-family='"Liberation Serif", serif' font-size="20.5" stroke="#000" stroke-width="0.3" xml:space="preserve">τ =35 <tspan font-family='"Liberation Sans", sans-serif' font-weight="bold" font-size="21">fs</tspan></text>
<text x="827.6" y="251.9" font-family='"Liberation Serif", serif' font-size="20.8" stroke="#000" stroke-width="0.3">τ<tspan font-family='"Liberation Sans", sans-serif' font-weight="bold" font-size="21" stroke-width="0" dy="8.4">p</tspan><tspan font-family='"Liberation Sans", sans-serif' font-weight="bold" font-size="21.4" stroke-width="0" dy="-8.4">=35fs</tspan></text>
<text x="924.0" y="225.0" font-family='"Liberation Serif", serif' font-size="20.8" stroke="#000" stroke-width="0.3">τ<tspan font-family='"Liberation Sans", sans-serif' font-weight="bold" font-size="21" stroke-width="0" dy="8.4">p</tspan><tspan font-family='"Liberation Sans", sans-serif' font-weight="bold" font-size="21.4" stroke-width="0" dy="-8.4">=100fs</tspan></text>
<text x="1183.9" y="120.2" font-family='"Liberation Serif", serif' font-size="20.8" stroke="#000" stroke-width="0.3">τ<tspan font-family='"Liberation Sans", sans-serif' font-weight="bold" font-size="21" stroke-width="0" dy="8.4">p</tspan><tspan font-family='"Liberation Sans", sans-serif' font-weight="bold" font-size="21.4" stroke-width="0" dy="-8.4">=300fs</tspan></text>
</svg>
</body></html>
